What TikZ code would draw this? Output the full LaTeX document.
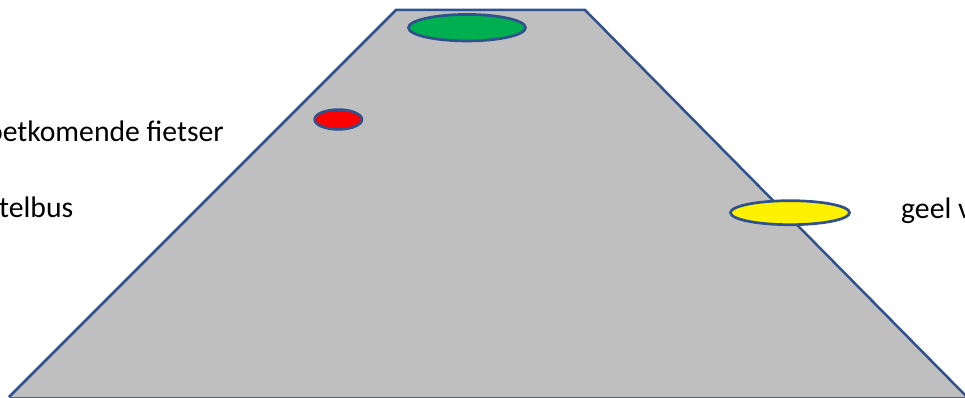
\documentclass[tikz,border=0pt]{standalone}
\usepackage{fontspec}
\setmainfont{Carlito}
\usetikzlibrary{shapes.geometric}
\definecolor{roadgray}{RGB}{191,191,191}
\definecolor{outl}{RGB}{47,82,143}
\definecolor{grn}{RGB}{0,176,80}
\begin{document}
\begin{tikzpicture}[x=1pt,y=-1pt,
  blob/.style={ellipse,draw=outl,line width=2.7pt,inner sep=0pt},
  lbl/.style={anchor=base west,inner sep=0pt,font=\fontsize{29.7}{35}\selectfont,text=black}]
\useasboundingbox (0,0) rectangle (965,398);
\fill[roadgray] (396,10) -- (585,10) -- (967,397) -- (9,397) -- cycle;
\draw[outl,line width=2.5pt,line join=miter] (9,397) -- (396,10) -- (585,10) -- (967,397);
\draw[outl!60!gray,line width=2pt] (9,397.5) -- (967,397.5);
\node[blob,fill=grn,minimum width=117pt,minimum height=26.5pt] (green) at (467,27.7) {};
\node[blob,fill=red,minimum width=47.3pt,minimum height=19.7pt] (redc) at (338.3,119.5) {};
\node[blob,fill=yellow,minimum width=119pt,minimum height=24pt] (yell) at (790,212.7) {};
\node[lbl] (t1) at (-13.1,141.7) {oetkomende fietser};
\node[lbl] (t2) at (-1,217.7) {telbus};
\node[lbl] (t3) at (901,218.3) {geel v};
\end{tikzpicture}
\end{document}
